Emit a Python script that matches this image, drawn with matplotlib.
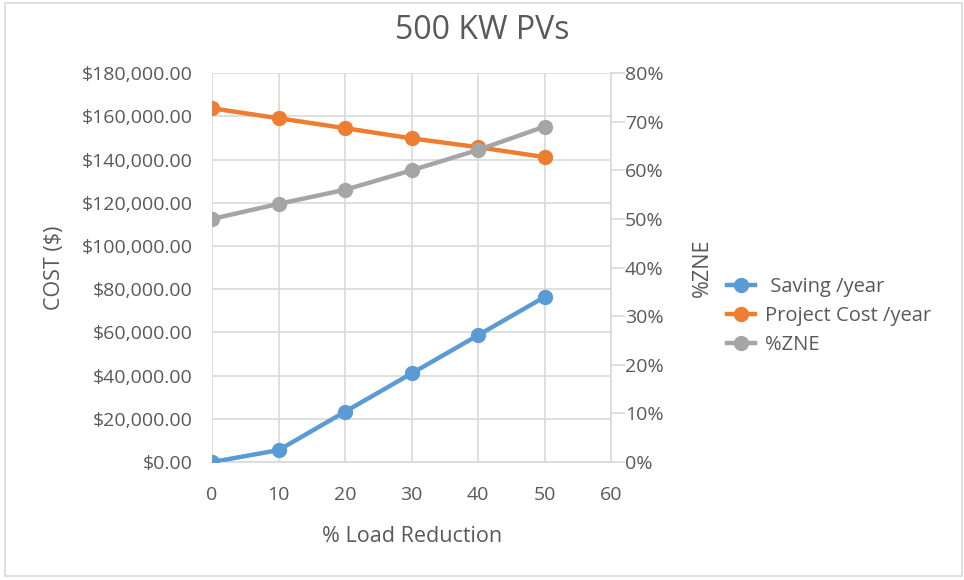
import matplotlib.pyplot as plt
from matplotlib.patches import Rectangle
from matplotlib.ticker import FuncFormatter

# values
load_reduction = [0, 10, 20, 30, 40, 50]
saving_per_year = [0, 5500, 23300, 41000, 58700, 76400]
project_cost_per_year = [163700, 159100, 154500, 149800, 145700, 141100]
zne_pct = [50.0, 53.1, 56.0, 60.0, 64.2, 69.0]

text_col = '#595959'
grid_col = '#d9d9d9'

plt.rcParams['font.family'] = ['Open Sans', 'DejaVu Sans']

fig = plt.figure(figsize=(9.64, 5.8), dpi=100)
fig.patches.append(Rectangle((0.005, 0.007), 0.993, 0.987, transform=fig.transFigure,
                             fill=False, edgecolor='#d9d9d9', linewidth=1.2))

ax = fig.add_axes([0.22, 0.2034, 0.414, 0.6706])
ax2 = ax.twinx()

ax.plot(load_reduction, saving_per_year, color='#5b9bd5', linewidth=3.2,
        marker='o', markersize=10, label=' Saving /year', zorder=3)
ax.plot(load_reduction, project_cost_per_year, color='#ed7d31', linewidth=3.2,
        marker='o', markersize=10, label='Project Cost /year', zorder=3)
ax2.plot(load_reduction, zne_pct, color='#a5a5a5', linewidth=3.2,
         marker='o', markersize=10, label='%ZNE', zorder=3)

ax.set_xlim(0, 60)
ax.set_ylim(0, 180000)
ax.set_xticks(range(0, 61, 10))
ax.set_yticks(range(0, 180001, 20000))
ax.yaxis.set_major_formatter(FuncFormatter(lambda v, p: '${:,.2f}'.format(v)))
ax2.set_ylim(0, 80)
ax2.set_yticks(range(0, 81, 10))
ax2.yaxis.set_major_formatter(FuncFormatter(lambda v, p: '{:.0f}%'.format(v)))

ax.grid(True, color=grid_col, linewidth=1.2)
ax.set_axisbelow(True)
for s in ['top', 'left', 'right']:
    ax.spines[s].set_visible(False)
ax.spines['bottom'].set_color(grid_col)
ax.spines['bottom'].set_linewidth(1.2)
for s in ['top', 'left', 'bottom']:
    ax2.spines[s].set_visible(False)
ax2.spines['right'].set_color(grid_col)
ax2.spines['right'].set_linewidth(1.2)

ax.tick_params(axis='both', length=0, labelsize=14, labelcolor=text_col)
ax.tick_params(axis='x', pad=17)
ax.tick_params(axis='y', pad=14)
ax2.tick_params(axis='y', length=10, width=1.2, color=grid_col,
                labelsize=14, labelcolor=text_col, pad=0)

ax.set_xlabel('% Load Reduction', fontsize=15.5, color=text_col, labelpad=16)
ax.set_ylabel('COST ($)', fontsize=15.5, color=text_col, labelpad=12)
ax2.set_ylabel('%ZNE', fontsize=15.5, color=text_col, labelpad=20)

fig.text(0.5, 0.947, '500 KW PVs', ha='center', va='center', fontsize=23, color=text_col)

h1, l1 = ax.get_legend_handles_labels()
h2, l2 = ax2.get_legend_handles_labels()
fig.legend(h1 + h2, l1 + l2, loc='center left', bbox_to_anchor=(0.735, 0.455),
           frameon=False, fontsize=14.5, labelcolor=text_col,
           handlelength=1.4, handletextpad=0.5, labelspacing=0.45)

fig.savefig('out.png', dpi=100)
